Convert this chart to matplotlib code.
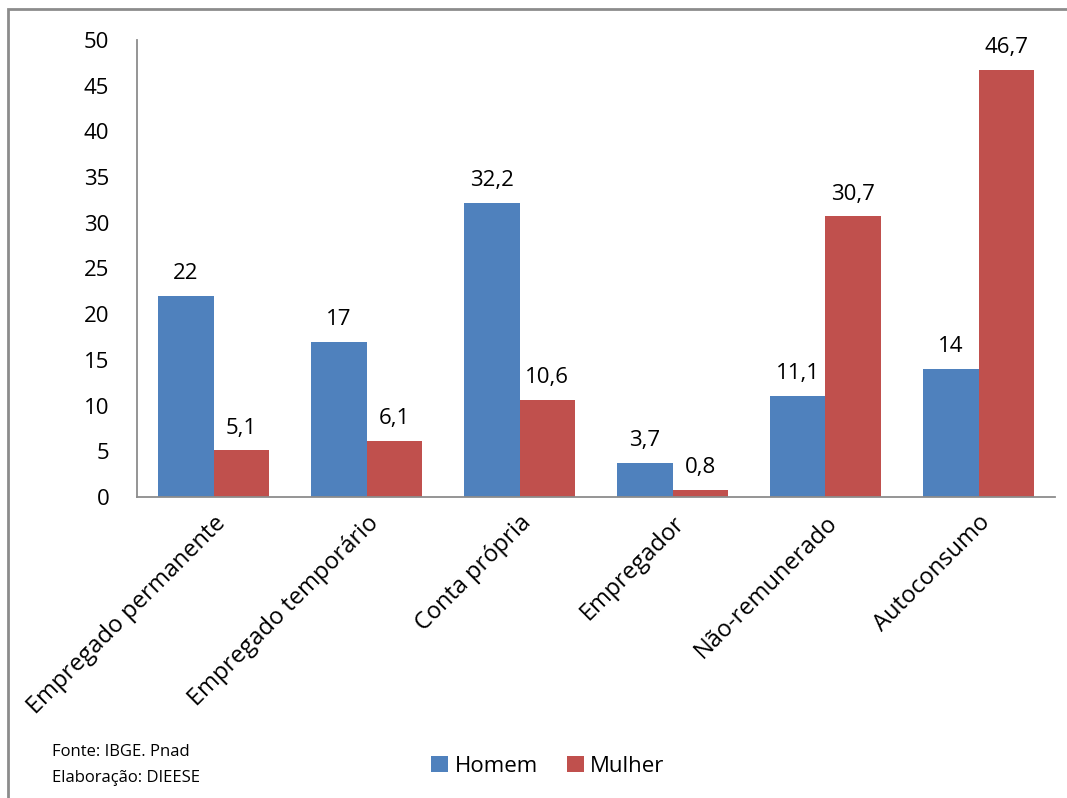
import numpy as np
import matplotlib.pyplot as plt
from matplotlib.patches import Rectangle

# dados
categorias = ['Empregado permanente', 'Empregado temporário', 'Conta própria',
              'Empregador', 'Não-remunerado', 'Autoconsumo']
homem = [22, 17, 32.2, 3.7, 11.1, 14]
mulher = [5.1, 6.1, 10.6, 0.8, 30.7, 46.7]
rotulos_homem = ['22', '17', '32,2', '3,7', '11,1', '14']
rotulos_mulher = ['5,1', '6,1', '10,6', '0,8', '30,7', '46,7']
yticks = [0, 5, 10, 15, 20, 25, 30, 35, 40, 45, 50]

plt.rcParams['font.family'] = ['Open Sans', 'DejaVu Sans']

azul = '#4F81BD'
vermelho = '#C0504D'

fig = plt.figure(figsize=(10.67, 7.98), dpi=100)
ax = fig.add_axes([137/1067, 1 - 497/798, 918/1067, 457/798])

x = np.arange(len(categorias))
w = 0.36
b1 = ax.bar(x - w/2, homem, w, color=azul)
b2 = ax.bar(x + w/2, mulher, w, color=vermelho)

for rect, txt in zip(b1, rotulos_homem):
    ax.text(rect.get_x() + rect.get_width()/2, rect.get_height() + 1.3, txt,
            ha='center', va='bottom', fontsize=16)
for rect, txt in zip(b2, rotulos_mulher):
    ax.text(rect.get_x() + rect.get_width()/2, rect.get_height() + 1.3, txt,
            ha='center', va='bottom', fontsize=16)

ax.set_xlim(-0.5, len(categorias) - 0.5)
ax.set_ylim(0, 50)
ax.set_yticks(yticks)
ax.tick_params(axis='y', length=0, pad=20, labelsize=16)
ax.set_xticks(x)
ax.set_xticklabels(categorias, rotation=45, ha='right', rotation_mode='anchor', fontsize=17)
ax.tick_params(axis='x', length=0, pad=10)

for s in ['top', 'right']:
    ax.spines[s].set_visible(False)
for s in ['left', 'bottom']:
    ax.spines[s].set_color('#8c8c8c')
    ax.spines[s].set_linewidth(1.3)

leg = fig.legend([b1, b2], ['Homem', 'Mulher'], loc='center', ncol=2,
                 bbox_to_anchor=(548/1067, 1 - 766/798), frameon=False,
                 fontsize=16, handlelength=0.75, handleheight=0.75,
                 handletextpad=0.3, columnspacing=1.3)

fig.text(52/1067, 1 - 752/798, 'Fonte: IBGE. Pnad', fontsize=12, va='center')
fig.text(52/1067, 1 - 778/798, 'Elaboração: DIEESE', fontsize=12, va='center')

# moldura
fig.patches.append(Rectangle((8/1067, -0.1), 1.2, 1 - 9/798 + 0.1,
                             transform=fig.transFigure, fill=False,
                             edgecolor='#8c8c8c', linewidth=2))

fig.savefig('out.png', dpi=100)
